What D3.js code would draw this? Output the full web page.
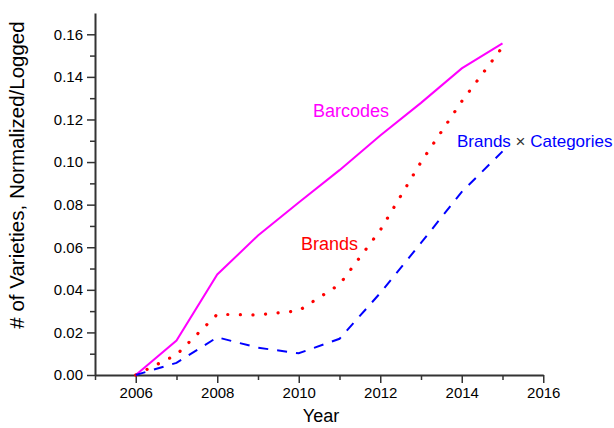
<!DOCTYPE html>
<html>
<head>
<meta charset="utf-8">
<script src="https://cdn.jsdelivr.net/npm/d3@7"></script>
<style>
  body { margin: 0; background: #fff; }
  text { font-family: Arial, "Liberation Sans", sans-serif; }
</style>
</head>
<body>
<script>
const years = [2006, 2007, 2008, 2009, 2010, 2011, 2012, 2013, 2014, 2015];
const barcodes = [0, 0.0162, 0.0472, 0.0655, 0.0810, 0.0962, 0.1125, 0.1278, 0.1440, 0.1557];
const brands = [0, 0.0095, 0.0285, 0.0282, 0.0302, 0.0425, 0.0680, 0.1000, 0.1285, 0.1540];
const brandsCats = [0, 0.0057, 0.0177, 0.0128, 0.0102, 0.0170, 0.0385, 0.0620, 0.0860, 0.1050];
const xTicks = [2006, 2008, 2010, 2012, 2014, 2016];
const yTicks = [0, 0.02, 0.04, 0.06, 0.08, 0.10, 0.12, 0.14, 0.16];

const series = [
    {name: 'Barcodes', values: barcodes, color: '#ff00ff', dash: null, dotted: false},
    {name: 'Brands', values: brands, color: '#ff0000', dash: '0.1 12.5', dotted: true},
    {name: 'Brands × Categories', values: brandsCats, color: '#0000ff', dash: '10 9', dotted: false}
];

showLineChart();
function showLineChart() {
    const W = 614, H = 428;
    const svg = d3.select('body').append('svg')
        .attr('width', W)
        .attr('height', H);

    const xScale = d3.scaleLinear().domain([2005, 2016]).range([95, 543.25]);
    const yScale = d3.scaleLinear().domain([0, 0.17]).range([375, 13]);

    const axisColor = '#333';

    // minor ticks
    const xMinor = d3.range(2005, 2016, 2);
    const yMinor = d3.range(0.01, 0.17, 0.02);

    svg.append('g')
        .attr('transform', `translate(0, ${yScale(0)})`)
        .call(d3.axisBottom(xScale).tickValues(xTicks).tickFormat(d3.format('d'))
            .tickSize(8).tickSizeOuter(0).tickPadding(4));
    svg.append('g')
        .attr('transform', `translate(0, ${yScale(0)})`)
        .call(d3.axisBottom(xScale).tickValues(xMinor).tickFormat('').tickSize(5).tickSizeOuter(0))
        .select('.domain').remove();

    svg.append('g')
        .attr('transform', `translate(${xScale(2005)}, 0)`)
        .call(d3.axisLeft(yScale).tickValues(yTicks).tickFormat(d3.format('.2f'))
            .tickSize(8).tickSizeOuter(0).tickPadding(4));
    svg.append('g')
        .attr('transform', `translate(${xScale(2005)}, 0)`)
        .call(d3.axisLeft(yScale).tickValues(yMinor).tickFormat('').tickSize(5).tickSizeOuter(0))
        .select('.domain').remove();

    svg.selectAll('.domain').attr('stroke', axisColor).attr('stroke-width', 2);
    svg.selectAll('.tick line').attr('stroke', axisColor).attr('stroke-width', 1.5);
    svg.selectAll('.tick text').attr('font-size', 15).attr('fill', '#000')
        .attr('font-family', 'Arial, "Liberation Sans", sans-serif');

    // axis titles
    svg.append('text')
        .attr('x', 321).attr('y', 422)
        .attr('text-anchor', 'middle')
        .attr('font-size', 18)
        .text('Year');

    svg.append('text')
        .attr('transform', 'translate(24, 175) rotate(-90)')
        .attr('text-anchor', 'middle')
        .attr('font-size', 20.5)
        .text('# of Varieties, Normalized/Logged');

    // lines
    const line = d3.line()
        .x((d, i) => xScale(years[i]))
        .y(d => yScale(d));

    svg.selectAll('path.series')
        .data(series)
        .enter()
        .append('path')
        .attr('class', 'series')
        .attr('fill', 'none')
        .attr('stroke', d => d.color)
        .attr('stroke-width', d => d.dotted ? 3.2 : 2)
        .attr('stroke-linecap', d => d.dotted ? 'round' : 'butt')
        .attr('stroke-dasharray', d => d.dash)
        .attr('d', d => line(d.values));

    // labels
    svg.append('text').attr('x', 313).attr('y', 117)
        .attr('font-size', 18).attr('fill', '#ff00ff').text('Barcodes');
    svg.append('text').attr('x', 301).attr('y', 250)
        .attr('font-size', 18).attr('fill', '#ff0000').text('Brands');
    const bc = svg.append('text').attr('x', 457).attr('y', 147)
        .attr('font-size', 17).attr('fill', '#0000ff');
    bc.append('tspan').text('Brands ');
    bc.append('tspan').attr('fill', '#333').text('×');
    bc.append('tspan').text(' Categories');
}
</script>
</body>
</html>
